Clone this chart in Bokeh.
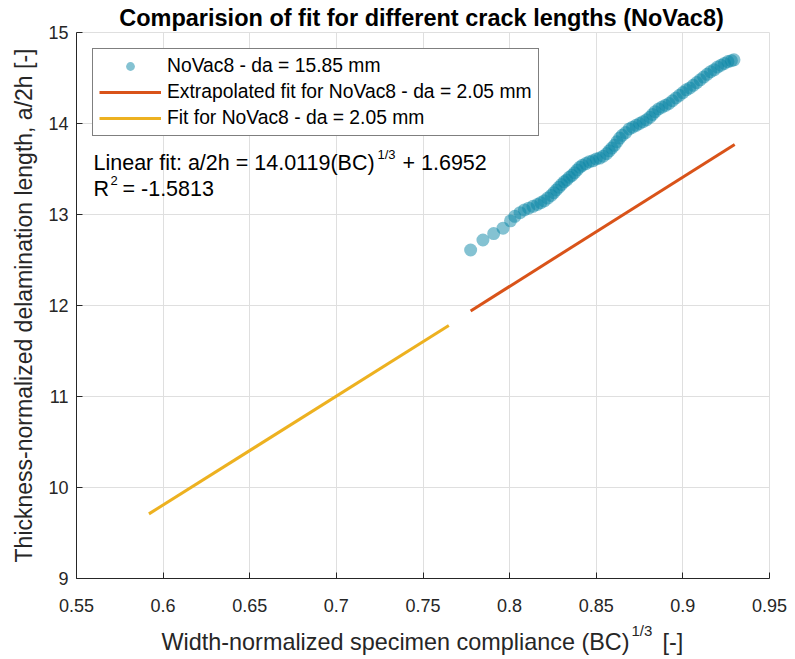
from bokeh.plotting import figure
from bokeh.models import Label, Legend, LegendItem, Range1d, FixedTicker
from bokeh.embed import file_html
from bokeh.resources import INLINE

# ---- data ----
scatter_x = [0.7775, 0.7846, 0.7908, 0.7962, 0.8005, 0.8030, 0.8060, 0.8085, 0.8110, 0.8135,
             0.8160, 0.8180, 0.8200, 0.8220, 0.8240, 0.8255, 0.8270, 0.8285, 0.8300, 0.8315,
             0.8330, 0.8345, 0.8360, 0.8375, 0.8390, 0.8405, 0.8420, 0.8440, 0.8460, 0.8480,
             0.8500, 0.8520, 0.8540, 0.8560, 0.8575, 0.8590, 0.8605, 0.8620, 0.8635, 0.8650,
             0.8670, 0.8690, 0.8710, 0.8730, 0.8750, 0.8770, 0.8790, 0.8810, 0.8825, 0.8840,
             0.8860, 0.8880, 0.8900, 0.8920, 0.8940, 0.8960, 0.8980, 0.9000, 0.9020, 0.9040,
             0.9060, 0.9080, 0.9100, 0.9120, 0.9140, 0.9160, 0.9180, 0.9200, 0.9220, 0.9240,
             0.9260, 0.9280, 0.9295]
scatter_y = [12.61, 12.72, 12.79, 12.85, 12.93, 12.98, 13.02, 13.05, 13.07, 13.09,
             13.11, 13.13, 13.15, 13.18, 13.21, 13.24, 13.27, 13.30, 13.33, 13.36,
             13.38, 13.41, 13.43, 13.46, 13.49, 13.52, 13.54, 13.56, 13.58, 13.59,
             13.61, 13.62, 13.64, 13.67, 13.70, 13.73, 13.76, 13.80, 13.84, 13.87,
             13.90, 13.94, 13.96, 13.98, 14.00, 14.02, 14.04, 14.07, 14.10, 14.13,
             14.16, 14.18, 14.20, 14.22, 14.25, 14.28, 14.31, 14.34, 14.37, 14.39,
             14.42, 14.45, 14.48, 14.51, 14.54, 14.57, 14.59, 14.62, 14.64, 14.66,
             14.68, 14.69, 14.70]

extrap_x = [0.7775, 0.9299]
extrap_y = [11.94, 13.77]

fit_x = [0.5918, 0.7649]
fit_y = [9.71, 11.78]

x_ticks = [0.55, 0.6, 0.65, 0.7, 0.75, 0.8, 0.85, 0.9, 0.95]
y_ticks = [9, 10, 11, 12, 13, 14, 15]

label_scatter = "NoVac8 - da = 15.85 mm"
label_extrap = "Extrapolated fit for NoVac8 - da = 2.05 mm"
label_fit = "Fit for NoVac8 - da = 2.05 mm"

FONT = "Liberation Sans"
DARK = "#262626"
GRID = "#dfdfdf"

p = figure(width=795, height=659, output_backend="svg", toolbar_location=None,
           x_range=Range1d(0.55, 0.95), y_range=Range1d(9, 15),
           min_border_left=76, min_border_right=26, min_border_top=32, min_border_bottom=81)
p.title = None
p.background_fill_color = "white"
p.border_fill_color = "white"
p.outline_line_color = GRID

for ax in (p.xaxis[0], p.yaxis[0]):
    ax.axis_line_color = DARK
    ax.major_tick_line_color = DARK
    ax.minor_tick_line_color = None
    ax.major_tick_in = 6
    ax.major_tick_out = 0
    ax.major_label_text_font = FONT
    ax.major_label_text_font_size = "18px"
    ax.major_label_text_color = DARK

p.xaxis[0].ticker = FixedTicker(ticks=x_ticks)
p.xaxis[0].major_label_overrides = {t: f"{t:g}" for t in x_ticks}
p.xaxis[0].major_label_standoff = 20
p.yaxis[0].ticker = FixedTicker(ticks=y_ticks)
p.yaxis[0].major_label_standoff = 8
p.yaxis[0].axis_label = "Thickness-normalized delamination length, a/2h [-]"
p.yaxis[0].axis_label_text_font = FONT
p.yaxis[0].axis_label_text_font_size = "23px"
p.yaxis[0].axis_label_text_font_style = "normal"
p.yaxis[0].axis_label_text_color = DARK
p.yaxis[0].axis_label_standoff = 8

p.xgrid.grid_line_color = GRID
p.ygrid.grid_line_color = GRID

r_sc = p.scatter(scatter_x, scatter_y, size=13, fill_color="#0A86A5", fill_alpha=0.5,
                 line_color=None)
r_ex = p.line(extrap_x, extrap_y, line_color="#D95319", line_width=3)
r_fit = p.line(fit_x, fit_y, line_color="#EDB120", line_width=3)

legend = Legend(items=[LegendItem(label=label_scatter, renderers=[r_sc]),
                       LegendItem(label=label_extrap, renderers=[r_ex]),
                       LegendItem(label=label_fit, renderers=[r_fit])],
                location="top_left", margin=16, padding=6, spacing=4,
                label_text_font=FONT, label_text_font_size="19.3px", label_text_color="black",
                label_height=22, glyph_height=22, glyph_width=62, label_standoff=6,
                border_line_color="black", border_line_width=1,
                background_fill_color="white", background_fill_alpha=1.0)
p.add_layout(legend)

# texts inside the frame, positioned relative to the frame's top-left corner (pixels)
def add_text(txt, px, py, size, align="left"):
    p.add_layout(Label(x=0.55, y=15, x_units="data", y_units="data",
                       x_offset=px - 76, y_offset=-(py - 32), text=txt,
                       text_font=FONT, text_font_size=size, text_color="black",
                       text_align=align, text_baseline="middle"))

add_text("Linear fit: a/2h = 14.0119(BC)", 93, 162, "21.5px")
add_text("1/3", 377, 154, "13px")
add_text("+ 1.6952", 402, 162, "21.5px")
add_text("R", 93, 188, "21.5px")
add_text("2", 110, 180, "13px")
add_text("= -1.5813", 122, 188, "21.5px")

# texts outside the frame: placed in side panels so they are not clipped
def add_side(txt, px, py, size, align, side, bold=False, color=DARK):
    lab = Label(x=0.55, y=9, x_units="data", y_units="data",
                x_offset=px - 76, y_offset=-(py - 578), text=txt,
                text_font=FONT, text_font_size=size, text_color=color,
                text_font_style="bold" if bold else "normal",
                text_align=align, text_baseline="middle")
    p.add_layout(lab, side)

add_side("Comparision of fit for different crack lengths (NoVac8)", 421, 17, "23.5px",
         "center", "above", bold=True, color="black")
add_side("Width-normalized specimen compliance (BC)", 629, 641, "23.4px", "right", "below")
add_side("1/3", 631, 630, "15px", "left", "below")
add_side("[-]", 662, 641, "23.4px", "left", "right")

open("out.html", "w").write(file_html(p, INLINE))
